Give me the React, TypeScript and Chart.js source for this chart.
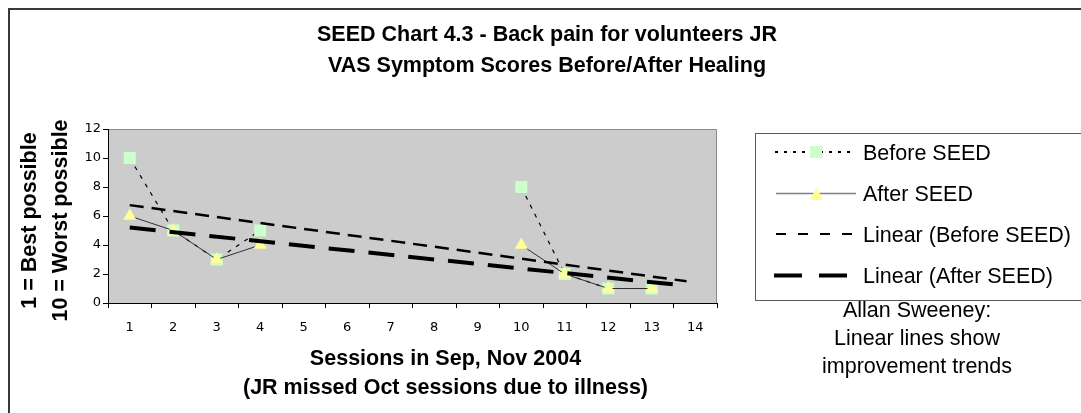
import { useEffect, useRef } from 'react';
import { Chart, registerables } from 'chart.js';

Chart.register(...registerables);

// ---------- data ----------
const sessions = [1, 2, 3, 4, 5, 6, 7, 8, 9, 10, 11, 12, 13, 14];
const beforeSeed: (number | null)[] = [10, 5, 3, 5, null, null, null, null, null, 8, 2, 1, 1, null];
const afterSeed: (number | null)[] = [6, 5, 3, 4, null, null, null, null, null, 4, 2, 1, 1, null];
// trend lines (start / end)
const beforeTrendX = [1, 13.8];
const beforeTrendY = [6.75, 1.5];
const afterTrendX = [1, 13.6];
const afterTrendY = [5.2, 1.25];
const yTicks = [0, 2, 4, 6, 8, 10, 12];

const titleLines = ['SEED Chart 4.3 - Back pain for volunteers JR', 'VAS Symptom Scores Before/After Healing'];
const xTitleLines = ['Sessions in Sep, Nov 2004', '(JR missed Oct sessions due to illness)'];
const yTitleLines = ['1 = Best possible', '10 = Worst possible'];
const legendLabels = ['Before SEED', 'After SEED', 'Linear (Before SEED)', 'Linear (After SEED)'];
const noteLines = ['Allan Sweeney:', 'Linear lines show', 'improvement trends'];

const W = 1081;
const H = 413;
const ARIAL = '"Liberation Sans", Arial, sans-serif';
const TICKFONT = '"DejaVu Sans", Verdana, sans-serif';
const GREEN = '#CCFFCC';
const YELLOW = '#FFFF99';

export default function App() {
  const ref = useRef<HTMLCanvasElement>(null);

  useEffect(() => {
    const canvas = ref.current as HTMLCanvasElement;

    const overlay = {
      id: 'overlay',
      beforeDraw(chart: any) {
        const ctx = chart.ctx as CanvasRenderingContext2D;
        const a = chart.chartArea;
        ctx.save();
        ctx.fillStyle = '#ffffff';
        ctx.fillRect(0, 0, W, H);
        ctx.fillStyle = '#CCCCCC';
        ctx.fillRect(a.left, a.top, a.right - a.left, a.bottom - a.top);
        ctx.strokeStyle = '#8a8a8a';
        ctx.lineWidth = 1;
        ctx.beginPath();
        ctx.moveTo(a.left, a.top + 0.5);
        ctx.lineTo(a.right - 0.5, a.top + 0.5);
        ctx.lineTo(a.right - 0.5, a.bottom);
        ctx.stroke();
        ctx.restore();
      },
      afterDraw(chart: any) {
        const ctx = chart.ctx as CanvasRenderingContext2D;
        ctx.save();
        // outer frame (left & top visible)
        ctx.fillStyle = '#383838';
        ctx.fillRect(8, 8, 2, H);
        ctx.fillRect(8, 8, W, 2);

        ctx.fillStyle = '#000';
        ctx.textBaseline = 'alphabetic';
        ctx.textAlign = 'center';
        // title
        ctx.font = `bold 21.5px ${ARIAL}`;
        ctx.fillText(titleLines[0], 547, 41);
        ctx.fillText(titleLines[1], 547, 71.5);
        // x title
        ctx.fillText(xTitleLines[0], 445.5, 365);
        ctx.fillText(xTitleLines[1], 445.5, 393.5);
        // y title
        const yBase = [36, 66.5];
        yTitleLines.forEach((t, i) => {
          ctx.save();
          ctx.translate(yBase[i], 220.5);
          ctx.rotate(-Math.PI / 2);
          ctx.fillText(t, 0, 0);
          ctx.restore();
        });

        // legend box
        ctx.strokeStyle = '#5a5a5a';
        ctx.lineWidth = 1;
        ctx.strokeRect(755.5, 133.5, 400, 167);
        const rowY = [152, 193.5, 234, 275.5];
        ctx.font = `21.5px ${ARIAL}`;
        ctx.textAlign = 'left';
        legendLabels.forEach((t, i) => {
          ctx.fillStyle = '#000';
          ctx.fillText(t, 863, rowY[i] + 7.7);
        });
        // legend samples
        const line = (x1: number, x2: number, y: number, color: string, w: number, dash: number[]) => {
          ctx.save();
          ctx.strokeStyle = color;
          ctx.lineWidth = w;
          ctx.setLineDash(dash);
          ctx.beginPath();
          ctx.moveTo(x1, y);
          ctx.lineTo(x2, y);
          ctx.stroke();
          ctx.restore();
        };
        line(775, 853, rowY[0], '#000', 2, [3, 6]);
        ctx.fillStyle = GREEN;
        ctx.fillRect(810, rowY[0] - 6, 12, 12);
        line(776, 856, rowY[1], '#808080', 1.5, []);
        ctx.fillStyle = YELLOW;
        ctx.beginPath();
        ctx.moveTo(816.5, rowY[1] - 6.5);
        ctx.lineTo(823, rowY[1] + 6.5);
        ctx.lineTo(810, rowY[1] + 6.5);
        ctx.closePath();
        ctx.fill();
        line(776, 856, rowY[2], '#000', 2, [10, 12]);
        line(774, 847, rowY[3], '#000', 4, [28, 17]);

        // note
        ctx.fillStyle = '#000';
        ctx.textAlign = 'center';
        const noteY = [316.7, 345, 373.3];
        noteLines.forEach((t, i) => ctx.fillText(t, 917, noteY[i]));
        ctx.restore();
      },
    };

    const toPts = (vals: (number | null)[]) => sessions.map((s, i) => ({ x: s, y: vals[i] }));
    const trendPts = (xs: number[], ys: number[]) => xs.map((x, i) => ({ x, y: ys[i] }));

    const xTickValues: number[] = [];
    for (let v = 0.5; v <= 14.5; v += 0.5) xTickValues.push(v);

    const chart = new Chart(canvas, {
      type: 'line',
      data: {
        datasets: [
          {
            label: legendLabels[0],
            data: toPts(beforeSeed) as any,
            borderColor: '#000',
            borderWidth: 1.2,
            borderDash: [4, 6],
            pointStyle: 'rect',
            pointRadius: 8.5,
            pointBackgroundColor: GREEN,
            pointBorderColor: GREEN,
            pointBorderWidth: 0,
            order: 4,
          },
          {
            label: legendLabels[1],
            data: toPts(afterSeed) as any,
            borderColor: '#303030',
            borderWidth: 1,
            pointStyle: 'triangle',
            pointRadius: 7.5,
            pointBackgroundColor: YELLOW,
            pointBorderColor: YELLOW,
            pointBorderWidth: 0,
            order: 3,
          },
          {
            label: legendLabels[2],
            data: trendPts(beforeTrendX, beforeTrendY) as any,
            borderColor: '#000',
            borderWidth: 2.5,
            borderDash: [14, 8],
            pointRadius: 0,
            order: 2,
          },
          {
            label: legendLabels[3],
            data: trendPts(afterTrendX, afterTrendY) as any,
            borderColor: '#000',
            borderWidth: 4,
            borderDash: [26, 14],
            pointRadius: 0,
            order: 1,
          },
        ],
      },
      options: {
        responsive: false,
        animation: false,
        devicePixelRatio: 1,
        layout: { padding: { left: 0, top: 129, right: W - 717, bottom: 70 } },
        plugins: {
          legend: { display: false },
          title: { display: false },
          tooltip: { enabled: false },
        },
        elements: { line: { tension: 0 } },
        scales: {
          x: {
            type: 'linear',
            min: 0.5,
            max: 14.5,
            afterBuildTicks: (s: any) => {
              s.ticks = xTickValues.map((v) => ({ value: v }));
            },
            afterFit: (s: any) => {
              s.height = 40;
            },
            ticks: {
              autoSkip: false,
              maxRotation: 0,
              minRotation: 0,
              padding: 12,
              color: '#000',
              font: { family: TICKFONT, size: 13 },
              callback: (v: any) => (Number.isInteger(v) ? String(sessions[v - 1]) : ''),
            },
            grid: {
              drawOnChartArea: false,
              tickLength: 5,
              tickWidth: 1,
              tickColor: (c: any) => (c.tick && Number.isInteger(c.tick.value) ? 'rgba(0,0,0,0)' : '#000'),
            },
            border: { color: '#000', width: 1 },
          },
          y: {
            type: 'linear',
            min: 0,
            max: 12,
            afterBuildTicks: (s: any) => {
              s.ticks = yTicks.map((v) => ({ value: v }));
            },
            afterFit: (s: any) => {
              s.width = 108;
            },
            ticks: {
              padding: 2,
              color: '#000',
              font: { family: TICKFONT, size: 13 },
              callback: (v: any) => String(v),
            },
            grid: { drawOnChartArea: false, tickLength: 5, tickColor: '#000' },
            border: { color: '#000', width: 1 },
          },
        },
      },
      plugins: [overlay],
    } as any);

    return () => chart.destroy();
  }, []);

  return (
    <div style={{ position: 'absolute', left: 0, top: 0, width: W, height: H, overflow: 'hidden', background: '#fff' }}>
      <canvas ref={ref} width={W} height={H} style={{ display: 'block', width: W, height: H }} />
    </div>
  );
}
